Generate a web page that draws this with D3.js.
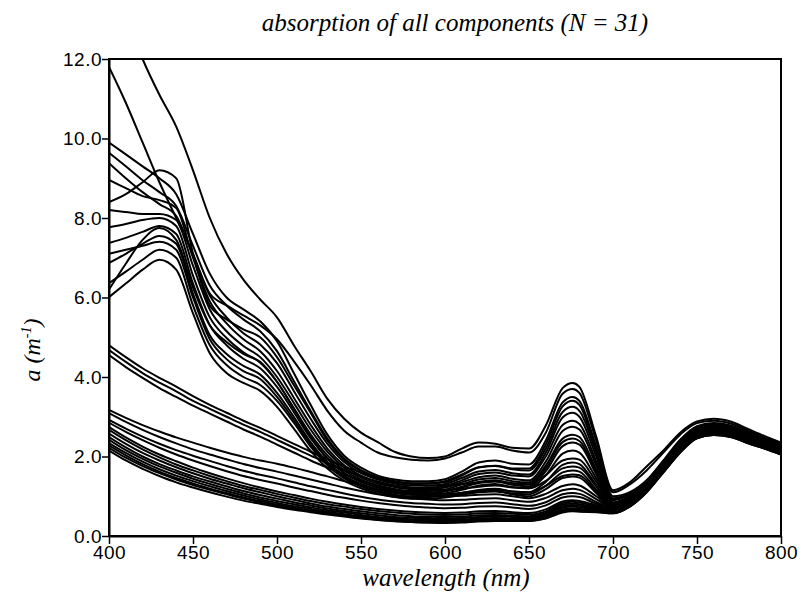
<!DOCTYPE html>
<html><head><meta charset="utf-8">
<script src="https://cdn.jsdelivr.net/npm/d3@7"></script>
<style>
body{margin:0;background:#fff;}
svg{display:block;}
.tick text{font-family:"Liberation Sans",Arial,sans-serif;font-size:19px;letter-spacing:0.5px;fill:#000;}
</style></head>
<body>
<svg id="chart" width="802" height="596"></svg>
<script>
// wavelengths (nm)
const wavelengths = [400,410,420,430,440,450,460,470,480,490,500,510,520,530,540,550,560,570,580,590,600,610,620,630,640,650,660,670,676,680,690,700,710,720,730,740,750,760,770,780,790,800];
const xTicks = [400,450,500,550,600,650,700,750,800];
const yTicks = [0,2,4,6,8,10,12];

const t1 = [14.2,13.1,12.0,11.1,10.3,9.2,8.0,7.1,6.45,5.95,5.5,4.8,4.15,3.45,2.95,2.6,2.36,2.12,2.0,1.96,2.0,2.2,2.35,2.32,2.22,2.2,2.78,3.72,3.85,3.75,2.5,1.15,1.35,1.75,2.15,2.6,2.88,2.95,2.88,2.7,2.52,2.35];
const t2 = [11.8,10.9,9.9,8.9,8.0,7.1,6.1,5.8,5.55,5.3,4.95,4.4,3.8,3.15,2.65,2.35,2.1,1.98,1.92,1.9,1.95,2.1,2.25,2.25,2.15,2.1,2.6,3.58,3.7,3.6,2.4,1.1,1.3,1.65,2.1,2.55,2.84,2.9,2.83,2.66,2.48,2.31];
const u1 = [9.9,9.6,9.3,9.0,8.6,7.6,6.6,6.0,5.7,5.4,4.9,4.1,3.3,2.55,2.02,1.72,1.52,1.42,1.38,1.38,1.43,1.62,1.85,1.9,1.82,1.8,2.4,3.36,3.5,3.4,2.25,1.0,1.1,1.4,1.9,2.42,2.76,2.84,2.78,2.62,2.46,2.3];
const u2 = [8.4,8.6,8.9,9.2,9.0,7.1,5.8,5.45,5.2,5.0,4.5,3.8,3.1,2.4,1.92,1.64,1.46,1.36,1.32,1.32,1.36,1.52,1.72,1.77,1.7,1.7,2.3,3.26,3.4,3.3,2.15,0.95,1.08,1.38,1.88,2.4,2.74,2.82,2.76,2.6,2.44,2.28];
const u3 = [9.64,9.3,8.95,8.65,8.3,7.3,6.3,5.8,5.45,5.15,4.65,3.9,3.15,2.45,1.95,1.66,1.48,1.38,1.33,1.33,1.38,1.55,1.73,1.76,1.68,1.65,2.2,3.12,3.25,3.15,2.1,0.92,1.06,1.37,1.87,2.38,2.73,2.8,2.75,2.59,2.43,2.27];
const u4 = [9.38,9.0,8.65,8.35,8.05,7.05,6.05,5.5,5.1,4.82,4.35,3.65,2.95,2.32,1.86,1.58,1.42,1.32,1.27,1.27,1.31,1.46,1.62,1.66,1.58,1.55,2.1,2.98,3.1,3.0,2.0,0.9,1.04,1.36,1.86,2.37,2.72,2.79,2.74,2.58,2.42,2.26];
const u5 = [8.96,8.75,8.55,8.45,8.25,7.0,5.9,5.35,4.95,4.65,4.15,3.48,2.8,2.2,1.78,1.52,1.36,1.27,1.22,1.22,1.26,1.4,1.56,1.6,1.52,1.5,2.0,2.79,2.9,2.82,1.88,0.85,1.0,1.33,1.83,2.34,2.69,2.77,2.71,2.55,2.4,2.24];
const u6 = [8.2,8.15,8.1,8.1,7.95,6.8,5.7,5.15,4.78,4.5,4.0,3.35,2.68,2.12,1.72,1.47,1.32,1.23,1.18,1.18,1.22,1.35,1.48,1.52,1.44,1.4,1.87,2.64,2.75,2.68,1.78,0.82,0.98,1.32,1.82,2.32,2.68,2.76,2.7,2.54,2.39,2.23];
const u7 = [7.77,7.85,7.95,8.0,7.8,6.55,5.5,4.98,4.62,4.36,3.88,3.22,2.56,2.03,1.65,1.42,1.27,1.18,1.13,1.13,1.17,1.3,1.42,1.46,1.38,1.35,1.77,2.45,2.55,2.49,1.67,0.8,0.97,1.31,1.81,2.31,2.67,2.75,2.69,2.53,2.38,2.22];
const u8 = [7.37,7.5,7.65,7.8,7.6,6.35,5.3,4.8,4.46,4.22,3.75,3.12,2.46,1.95,1.59,1.37,1.22,1.13,1.08,1.08,1.12,1.22,1.33,1.37,1.29,1.25,1.63,2.26,2.35,2.3,1.55,0.76,0.95,1.3,1.8,2.3,2.66,2.74,2.68,2.52,2.37,2.22];
const u9 = [6.87,7.1,7.35,7.55,7.35,6.1,5.05,4.58,4.28,4.06,3.6,3.0,2.36,1.86,1.52,1.31,1.17,1.08,1.04,1.04,1.07,1.16,1.27,1.31,1.23,1.2,1.53,2.07,2.15,2.1,1.45,0.74,0.94,1.29,1.79,2.29,2.65,2.73,2.67,2.51,2.36,2.21];
const u10 = [6.36,6.65,6.95,7.2,7.0,5.8,4.8,4.3,4.0,3.8,3.4,2.85,2.25,1.78,1.45,1.25,1.11,1.02,0.98,0.98,1.01,1.08,1.16,1.19,1.12,1.1,1.36,1.79,1.85,1.81,1.28,0.7,0.92,1.27,1.77,2.27,2.63,2.71,2.65,2.49,2.34,2.19];
const u11 = [6.01,6.35,6.7,6.95,6.7,5.6,4.6,4.1,3.85,3.65,3.25,2.7,2.14,1.7,1.39,1.2,1.07,0.98,0.94,0.94,0.97,1.03,1.11,1.14,1.07,1.05,1.26,1.6,1.65,1.62,1.17,0.68,0.9,1.26,1.76,2.26,2.62,2.7,2.64,2.48,2.33,2.18];
const u12 = [7.1,7.2,7.3,7.4,7.2,6.0,4.95,4.45,4.15,3.95,3.5,2.92,2.3,1.82,1.48,1.27,1.13,1.04,1.0,1.0,1.02,1.06,1.1,1.12,1.05,1.0,1.18,1.46,1.5,1.47,1.08,0.66,0.89,1.25,1.75,2.25,2.61,2.69,2.63,2.47,2.32,2.17];
const u13 = [6.2,6.85,7.45,7.75,7.45,6.25,5.3,4.88,4.58,4.38,3.88,3.2,2.5,1.95,1.58,1.36,1.22,1.13,1.09,1.09,1.13,1.24,1.36,1.4,1.32,1.3,1.7,2.36,2.45,2.39,1.62,0.78,0.96,1.3,1.8,2.3,2.66,2.74,2.68,2.52,2.37,2.21];
const m1 = [4.8,4.5,4.22,3.98,3.76,3.52,3.3,3.1,2.9,2.72,2.52,2.32,2.12,1.93,1.75,1.6,1.46,1.37,1.31,1.27,1.27,1.3,1.35,1.38,1.33,1.3,1.53,1.9,1.95,1.92,1.37,0.78,0.93,1.28,1.78,2.28,2.64,2.72,2.66,2.5,2.35,2.2];
const m2 = [4.68,4.38,4.1,3.86,3.64,3.4,3.2,3.0,2.8,2.62,2.42,2.22,2.02,1.84,1.66,1.5,1.37,1.27,1.21,1.17,1.16,1.19,1.24,1.27,1.22,1.2,1.39,1.7,1.75,1.72,1.25,0.74,0.9,1.26,1.76,2.26,2.62,2.7,2.64,2.48,2.33,2.18];
const m3 = [4.55,4.25,3.98,3.72,3.5,3.28,3.08,2.88,2.68,2.5,2.3,2.1,1.9,1.72,1.55,1.4,1.27,1.17,1.11,1.07,1.06,1.09,1.14,1.17,1.12,1.1,1.26,1.51,1.55,1.53,1.13,0.7,0.88,1.24,1.74,2.24,2.6,2.68,2.62,2.46,2.31,2.16];
const l1 = [3.17,2.97,2.79,2.63,2.48,2.35,2.22,2.1,1.99,1.9,1.82,1.72,1.61,1.5,1.38,1.27,1.17,1.1,1.05,1.02,1.0,1.01,1.04,1.05,1.0,0.95,1.06,1.26,1.3,1.27,1.0,0.74,0.88,1.22,1.72,2.22,2.58,2.66,2.61,2.46,2.31,2.16];
const l2 = [3.09,2.87,2.67,2.49,2.33,2.18,2.05,1.93,1.81,1.71,1.62,1.52,1.42,1.32,1.22,1.13,1.05,0.99,0.95,0.92,0.9,0.91,0.94,0.95,0.9,0.86,0.96,1.15,1.19,1.16,0.93,0.72,0.86,1.21,1.71,2.21,2.57,2.65,2.6,2.45,2.3,2.15];
const l3 = [2.92,2.7,2.5,2.32,2.16,2.02,1.89,1.76,1.64,1.54,1.45,1.35,1.25,1.16,1.07,0.99,0.92,0.87,0.83,0.81,0.79,0.8,0.83,0.84,0.8,0.76,0.85,1.05,1.08,1.06,0.86,0.69,0.84,1.2,1.7,2.2,2.56,2.64,2.59,2.44,2.29,2.14];
const l4 = [2.85,2.62,2.41,2.22,2.05,1.9,1.76,1.63,1.51,1.41,1.32,1.22,1.13,1.04,0.96,0.89,0.83,0.78,0.74,0.72,0.7,0.71,0.74,0.75,0.72,0.68,0.77,0.97,1.0,0.98,0.81,0.67,0.83,1.19,1.69,2.19,2.55,2.63,2.58,2.43,2.28,2.13];
const l5 = [2.74,2.48,2.25,2.05,1.88,1.72,1.58,1.45,1.33,1.22,1.12,1.03,0.94,0.86,0.79,0.73,0.68,0.64,0.61,0.59,0.58,0.59,0.62,0.63,0.6,0.58,0.67,0.87,0.9,0.88,0.77,0.65,0.82,1.18,1.68,2.18,2.54,2.62,2.57,2.42,2.27,2.12];
const l6 = [2.67,2.41,2.18,1.98,1.8,1.65,1.51,1.38,1.26,1.16,1.06,0.97,0.88,0.8,0.74,0.68,0.63,0.59,0.56,0.54,0.53,0.54,0.57,0.58,0.56,0.54,0.62,0.83,0.86,0.84,0.74,0.63,0.8,1.16,1.66,2.16,2.52,2.6,2.55,2.4,2.26,2.11];
const l7 = [2.58,2.32,2.09,1.9,1.73,1.58,1.44,1.32,1.2,1.1,1.0,0.91,0.82,0.74,0.68,0.62,0.57,0.53,0.5,0.49,0.48,0.49,0.52,0.53,0.51,0.5,0.58,0.79,0.82,0.8,0.72,0.62,0.79,1.15,1.65,2.15,2.51,2.59,2.54,2.39,2.25,2.1];
const l8 = [2.49,2.23,2.0,1.81,1.65,1.5,1.37,1.25,1.13,1.03,0.94,0.85,0.77,0.69,0.63,0.57,0.52,0.48,0.46,0.45,0.44,0.45,0.48,0.49,0.48,0.47,0.55,0.75,0.78,0.76,0.69,0.6,0.78,1.14,1.64,2.14,2.5,2.58,2.53,2.38,2.24,2.09];
const l9 = [2.42,2.16,1.94,1.75,1.59,1.44,1.31,1.19,1.07,0.97,0.88,0.8,0.72,0.65,0.59,0.53,0.48,0.45,0.42,0.41,0.4,0.41,0.44,0.45,0.44,0.44,0.52,0.71,0.74,0.72,0.67,0.6,0.77,1.13,1.63,2.13,2.49,2.57,2.52,2.37,2.23,2.08];
const l10 = [2.34,2.09,1.87,1.68,1.52,1.38,1.25,1.13,1.02,0.92,0.83,0.75,0.68,0.61,0.55,0.5,0.45,0.42,0.39,0.38,0.37,0.38,0.41,0.42,0.41,0.41,0.49,0.67,0.7,0.68,0.64,0.58,0.76,1.12,1.62,2.12,2.48,2.56,2.51,2.36,2.22,2.07];
const l11 = [2.28,2.03,1.81,1.62,1.46,1.32,1.19,1.08,0.97,0.88,0.79,0.71,0.64,0.58,0.52,0.47,0.43,0.4,0.37,0.36,0.35,0.36,0.39,0.4,0.4,0.4,0.47,0.65,0.68,0.66,0.63,0.58,0.75,1.11,1.61,2.11,2.47,2.55,2.5,2.35,2.21,2.06];
const l12 = [2.22,1.97,1.76,1.58,1.42,1.28,1.16,1.05,0.94,0.85,0.76,0.69,0.62,0.56,0.5,0.45,0.41,0.38,0.35,0.34,0.33,0.34,0.37,0.38,0.38,0.38,0.45,0.61,0.64,0.63,0.61,0.57,0.74,1.1,1.6,2.1,2.46,2.54,2.49,2.34,2.2,2.05];
const l13 = [2.15,1.9,1.69,1.51,1.35,1.22,1.1,0.99,0.89,0.81,0.73,0.66,0.6,0.54,0.49,0.44,0.4,0.37,0.35,0.34,0.34,0.35,0.37,0.38,0.38,0.38,0.44,0.59,0.62,0.61,0.6,0.57,0.74,1.1,1.6,2.1,2.46,2.54,2.49,2.34,2.2,2.05];

const series = [t1,t2,u1,u2,u3,u4,u5,u6,u7,u8,u9,u10,u11,u12,u13,m1,m2,m3,l1,l2,l3,l4,l5,l6,l7,l8,l9,l10,l11,l12,l13];

const svg = d3.select("#chart");
const x = d3.scaleLinear().domain([400,800]).range([109,781]);
const y = d3.scaleLinear().domain([0,12]).range([536,59]);

svg.append("defs").append("clipPath").attr("id","plotclip")
  .append("rect").attr("x",109).attr("y",59).attr("width",672).attr("height",477);

const line = d3.line().x((d,i)=>x(wavelengths[i])).y(d=>y(d)).curve(d3.curveMonotoneX);

svg.append("g").attr("clip-path","url(#plotclip)")
  .selectAll("path").data(series).join("path")
  .attr("d",line).attr("fill","none").attr("stroke","#000").attr("stroke-width",2)
  .attr("stroke-linejoin","round");

// frame
svg.append("rect").attr("x",109).attr("y",59).attr("width",672).attr("height",477)
  .attr("fill","none").attr("stroke","#000").attr("stroke-width",2);

const xAxis = svg.append("g").attr("transform","translate(0,536)")
  .call(d3.axisBottom(x).tickValues(xTicks).tickFormat(d3.format("d")).tickSize(8).tickSizeOuter(0));
xAxis.select(".domain").attr("stroke-width",2);
xAxis.selectAll(".tick line").attr("stroke-width",1.5);
xAxis.selectAll(".tick text").attr("dy","0.71em").attr("y",10);

const yAxis = svg.append("g").attr("transform","translate(109,0)")
  .call(d3.axisLeft(y).tickValues(yTicks).tickFormat(d3.format(".1f")).tickSize(7).tickSizeOuter(0));
yAxis.select(".domain").attr("stroke-width",2);
yAxis.selectAll(".tick line").attr("stroke-width",1.5);
yAxis.selectAll(".tick text").attr("x",-7);

const serif = "'Liberation Serif','Times New Roman',serif";
svg.append("text").attr("x",455).attr("y",31).attr("text-anchor","middle")
  .attr("font-family",serif).attr("font-style","italic")
  .attr("font-size",25).attr("fill","#000").text("absorption of all components (N = 31)");

svg.append("text").attr("x",446).attr("y",586).attr("text-anchor","middle")
  .attr("font-family",serif).attr("font-style","italic")
  .attr("font-size",25).attr("fill","#000").text("wavelength (nm)");

const yl = svg.append("text").attr("transform","translate(40,350) rotate(-90)").attr("text-anchor","middle")
  .attr("font-family",serif).attr("font-style","italic")
  .attr("font-size",24).attr("fill","#000");
yl.append("tspan").text("a (m");
yl.append("tspan").attr("dy",-9).attr("font-size",14).text("-1");
yl.append("tspan").attr("dy",9).text(")");
</script>
</body></html>
